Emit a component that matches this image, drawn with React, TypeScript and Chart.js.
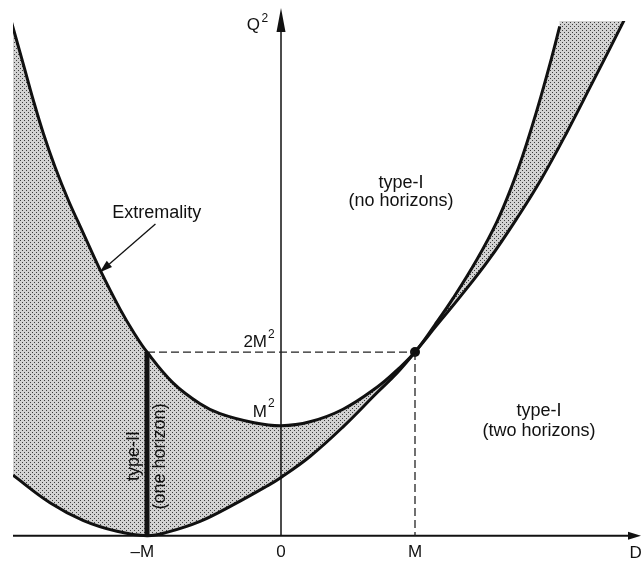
import React, { useEffect, useRef } from 'react';
import { Chart, registerables } from 'chart.js';

Chart.register(...registerables);

// ---- Data (D in units of M, Q² in units of M² as drawn) ----
const EXTREMALITY_D = [-2.01, -1.918, -1.849, -1.774, -1.687, -1.587, -1.475, -1.351, -1.201, -1.1, -1.0, -0.806, -0.604, -0.455, -0.209, 0, 0.216, 0.463, 0.716, 0.866, 1.0, 1.15, 1.286, 1.46, 1.61, 1.722, 1.8, 1.87, 1.94, 2.02, 2.08];
const EXTREMALITY_Q2 = [4.665, 4.265, 3.962, 3.66, 3.355, 3.05, 2.75, 2.42, 2.06, 1.85, 1.67, 1.39, 1.2, 1.11, 1.03, 1.0, 1.036, 1.15, 1.35, 1.506, 1.67, 1.92, 2.162, 2.507, 2.852, 3.177, 3.442, 3.708, 3.995, 4.347, 4.63];

const LOWER_D = [-2.0, -1.724, -1.478, -1.224, -1.0, -0.853, -0.604, -0.358, -0.107, 0, 0.216, 0.463, 0.716, 0.866, 1.0, 1.16, 1.33, 1.55, 1.784, 1.946, 2.13, 2.32, 2.45, 2.57];
const LOWER_Q2 = [0.55, 0.3, 0.14, 0.04, 0.0, 0.03, 0.13, 0.28, 0.45, 0.53, 0.72, 0.99, 1.3, 1.48, 1.67, 1.91, 2.162, 2.507, 2.93, 3.25, 3.66, 4.11, 4.42, 4.71];

const TYPE_II_D = [-1, -1];
const TYPE_II_Q2 = [0, 1.67];

const GUIDE_H_D = [-1, 1];
const GUIDE_H_Q2 = [1.67, 1.67];
const GUIDE_V_D = [1, 1];
const GUIDE_V_Q2 = [1.67, 0];

const TANGENT_D = [1];
const TANGENT_Q2 = [1.67];

const X_TICK_VALUES = [-1, 0, 1];
const X_TICK_LABELS = ['\u2013M', '0', 'M'];
const Y_TICK_VALUES = [1.0, 1.67];
const Y_TICK_LABELS = ['M', '2M'];
const X_AXIS_TITLE = 'D';
const Y_AXIS_TITLE = 'Q';

const FONT = '"Liberation Sans", Arial, Helvetica, sans-serif';
const INK = '#111111';

const pts = (xs: number[], ys: number[]) => xs.map((x, i) => ({ x, y: ys[i] }));

const diagramPlugin = {
  id: 'diagramAnnotations',
  beforeDatasetsDraw(chart: any) {
    const { ctx, scales } = chart;
    const x = scales.x;
    const y = scales.y;
    const x0 = x.getPixelForValue(0);
    const y0 = y.getPixelForValue(0);
    ctx.save();
    ctx.strokeStyle = INK;
    ctx.fillStyle = INK;
    // horizontal axis with arrow
    ctx.lineWidth = 2;
    ctx.beginPath();
    ctx.moveTo(x.left, y0);
    ctx.lineTo(632, y0);
    ctx.stroke();
    ctx.beginPath();
    ctx.moveTo(641, y0);
    ctx.lineTo(628, y0 - 4);
    ctx.lineTo(628, y0 + 4);
    ctx.closePath();
    ctx.fill();
    // vertical axis with arrow
    ctx.lineWidth = 1.5;
    ctx.beginPath();
    ctx.moveTo(x0, y0);
    ctx.lineTo(x0, 28);
    ctx.stroke();
    ctx.beginPath();
    ctx.moveTo(x0, 8);
    ctx.lineTo(x0 - 4.5, 32);
    ctx.lineTo(x0 + 4.5, 32);
    ctx.closePath();
    ctx.fill();
    ctx.restore();
  },
  afterDatasetsDraw(chart: any) {
    const { ctx, scales } = chart;
    const x = scales.x;
    const y = scales.y;
    const x0 = x.getPixelForValue(0);
    const y0 = y.getPixelForValue(0);
    ctx.save();
    ctx.fillStyle = INK;
    ctx.strokeStyle = INK;
    ctx.textBaseline = 'alphabetic';

    // x tick labels
    ctx.font = `17px ${FONT}`;
    const wM = ctx.measureText('M').width;
    X_TICK_VALUES.forEach((v, i) => {
      const px = x.getPixelForValue(v);
      const label = X_TICK_LABELS[i];
      if (label.length > 1 && label.endsWith('M')) {
        ctx.textAlign = 'right';
        ctx.fillText(label, px + wM / 2, y0 + 21);
      } else {
        ctx.textAlign = 'center';
        ctx.fillText(label, px, y0 + 21);
      }
    });
    ctx.textAlign = 'left';
    ctx.fillText(X_AXIS_TITLE, 629.5, y0 + 22);

    // y axis title Q²
    ctx.textAlign = 'right';
    ctx.fillText(Y_AXIS_TITLE, x0 - 21, 30);
    ctx.font = `12px ${FONT}`;
    ctx.textAlign = 'left';
    ctx.fillText('2', x0 - 19.5, 22);

    // y tick labels (M², 2M²)
    const raise = [8.7, 5];
    const supRaise = [18.4, 14];
    Y_TICK_VALUES.forEach((v, i) => {
      const py = y.getPixelForValue(v);
      ctx.font = `17px ${FONT}`;
      ctx.textAlign = 'right';
      ctx.fillText(Y_TICK_LABELS[i], x0 - 14, py - raise[i]);
      ctx.font = `12px ${FONT}`;
      ctx.textAlign = 'left';
      ctx.fillText('2', x0 - 13, py - supRaise[i]);
    });

    // region labels
    ctx.font = `18px ${FONT}`;
    ctx.textAlign = 'center';
    ctx.fillText('type-I', x.getPixelForValue(0.896), y.getPixelForValue(3.158));
    ctx.fillText('(no horizons)', x.getPixelForValue(0.896), y.getPixelForValue(2.994));
    ctx.fillText('type-I', x.getPixelForValue(1.925), y.getPixelForValue(1.085));
    ctx.fillText('(two horizons)', x.getPixelForValue(1.925), y.getPixelForValue(0.907));
    ctx.fillText('Extremality', x.getPixelForValue(-0.928), y.getPixelForValue(2.889));

    // arrow to the extremality curve
    const ax1 = x.getPixelForValue(-0.937);
    const ay1 = y.getPixelForValue(2.835);
    const ax2 = x.getPixelForValue(-1.354);
    const ay2 = y.getPixelForValue(2.394);
    const ang = Math.atan2(ay2 - ay1, ax2 - ax1);
    const headLen = 13;
    const headHalf = 4;
    const bx = ax2 - headLen * Math.cos(ang);
    const by = ay2 - headLen * Math.sin(ang);
    ctx.lineWidth = 1.3;
    ctx.beginPath();
    ctx.moveTo(ax1, ay1);
    ctx.lineTo(bx, by);
    ctx.stroke();
    ctx.beginPath();
    ctx.moveTo(ax2, ay2);
    ctx.lineTo(bx + headHalf * Math.sin(ang), by - headHalf * Math.cos(ang));
    ctx.lineTo(bx - headHalf * Math.sin(ang), by + headHalf * Math.cos(ang));
    ctx.closePath();
    ctx.fill();

    // rotated type-II labels
    const drawRot = (text: string, dx: number, qy: number) => {
      ctx.save();
      ctx.translate(x.getPixelForValue(dx), y.getPixelForValue(qy));
      ctx.rotate(-Math.PI / 2);
      ctx.textAlign = 'center';
      ctx.fillText(text, 0, 0);
      ctx.restore();
    };
    ctx.font = `18px ${FONT}`;
    drawRot('type-II', -1.063, 0.725);
    drawRot('(one horizon)', -0.869, 0.721);

    ctx.restore();
  },
};

export default function App() {
  const canvasRef = useRef<HTMLCanvasElement | null>(null);

  useEffect(() => {
    const canvas = canvasRef.current;
    if (!canvas) return;
    const ctx = canvas.getContext('2d');
    if (!ctx) return;

    const tile = document.createElement('canvas');
    tile.width = 4;
    tile.height = 4;
    const tctx = tile.getContext('2d')!;
    tctx.fillStyle = '#d2d2d2';
    tctx.fillRect(0, 0, 4, 4);
    tctx.fillStyle = '#3c3c3c';
    tctx.fillRect(0, 0, 1, 1);
    tctx.fillRect(2, 2, 1, 1);
    const stipple = ctx.createPattern(tile, 'repeat');

    const chart = new Chart(canvas, {
      type: 'line',
      data: {
        datasets: [
          {
            label: 'Extremality',
            data: pts(EXTREMALITY_D, EXTREMALITY_Q2),
            borderColor: INK,
            borderWidth: 3,
            pointRadius: 0,
            tension: 0.4,
            fill: 'end',
            backgroundColor: '#ffffff',
          },
          {
            label: 'Lower boundary',
            data: pts(LOWER_D, LOWER_Q2),
            borderColor: INK,
            borderWidth: 3,
            pointRadius: 0,
            tension: 0.4,
            fill: 'end',
            backgroundColor: stipple as any,
          },
          {
            label: 'type-II',
            data: pts(TYPE_II_D, TYPE_II_Q2),
            borderColor: INK,
            borderWidth: 5,
            pointRadius: 0,
            tension: 0,
            borderCapStyle: 'butt',
            fill: false,
          },
          {
            label: 'guide-h',
            data: pts(GUIDE_H_D, GUIDE_H_Q2),
            borderColor: '#222222',
            borderWidth: 1.3,
            borderDash: [8, 4],
            pointRadius: 0,
            tension: 0,
            fill: false,
          },
          {
            label: 'guide-v',
            data: pts(GUIDE_V_D, GUIDE_V_Q2),
            borderColor: '#222222',
            borderWidth: 1.3,
            borderDash: [8, 4],
            pointRadius: 0,
            tension: 0,
            fill: false,
          },
          {
            label: 'tangent',
            data: pts(TANGENT_D, TANGENT_Q2),
            showLine: false,
            pointRadius: 5,
            pointBackgroundColor: INK,
            pointBorderColor: INK,
            pointBorderWidth: 0,
            fill: false,
          },
        ],
      },
      options: {
        animation: false,
        responsive: false,
        devicePixelRatio: 1,
        events: [],
        layout: { padding: { left: 13, right: 12.6, top: 21, bottom: 23.8 } },
        scales: {
          x: { type: 'linear', min: -2, max: 2.6, display: false },
          y: { type: 'linear', min: -0.05, max: 4.68, display: false },
        },
        plugins: {
          legend: { display: false },
          tooltip: { enabled: false },
          filler: { drawTime: 'beforeDatasetsDraw' },
        },
      } as any,
      plugins: [diagramPlugin as any],
    });

    return () => chart.destroy();
  }, []);

  return (
    <div style={{ position: 'absolute', left: 0, top: 0, width: 642, height: 565, background: '#fff' }}>
      <canvas ref={canvasRef} width={642} height={565} style={{ display: 'block' }} />
    </div>
  );
}
